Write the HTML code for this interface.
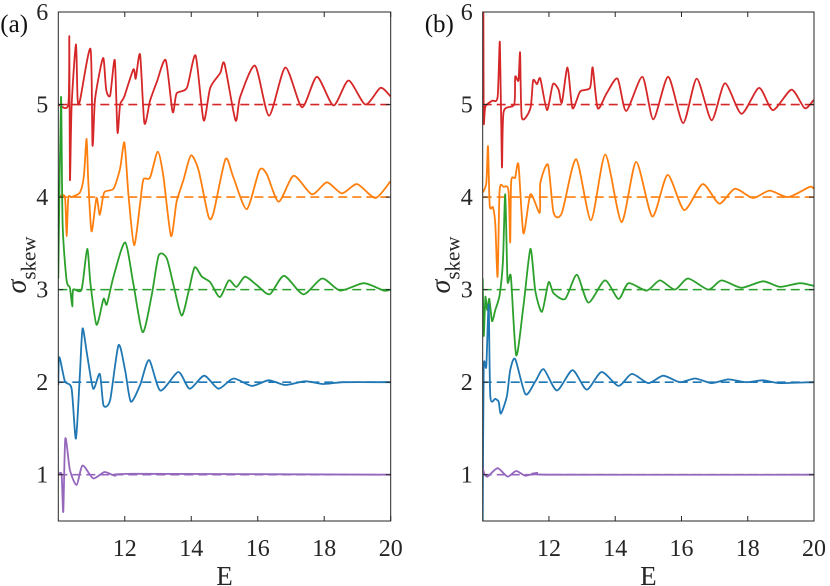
<!DOCTYPE html>
<html><head><meta charset="utf-8">
<style>
html,body{margin:0;padding:0;background:#fff;}
svg{display:block;font-family:"Liberation Serif","Times New Roman",serif;}
</style></head>
<body>
<svg id="fig" width="830" height="586" viewBox="0 0 830 586" xmlns="http://www.w3.org/2000/svg"></svg>
<script>
// ---- data ----
const xTicks = [12, 14, 16, 18, 20];
const yTicks = [1, 2, 3, 4, 5, 6];
const baselines = [5, 4, 3, 2, 1];
const seriesNames = ['red', 'orange', 'green', 'blue', 'purple'];
const seriesColors = ['#d62728', '#ff7f0e', '#2ca02c', '#1f77b4', '#9467bd'];

const aRedE = [10,10.3,10.33,10.35,10.4,10.53,10.58,10.65,10.97,11.03,11.1,11.25,11.36,11.44,11.56,11.7,11.78,11.86,11.98,12.26,12.33,12.46,12.59,12.76,12.96,13.23,13.44,13.56,13.87,14.13,14.37,14.57,14.87,15,15.33,15.47,15.92,16.34,16.83,17.33,17.78,18.28,18.73,19.24,19.69,19.99];
const aRedV = [5,5,5.73,4.19,4.98,5.65,5.06,5.04,5.6,4.56,5.04,5.36,5.5,5.16,5.1,5.48,4.7,5,5.08,5.38,5.28,5.54,4.8,5.04,5.24,5.48,4.92,5.12,5.18,5.53,4.83,5.18,5.34,5.44,4.83,5.08,5.42,4.88,5.4,4.97,5.3,4.99,5.26,5,5.18,5.09];
const aOrangeE = [10,10.2,10.25,10.3,10.4,10.65,10.77,10.85,10.9,11,11.15,11.25,11.38,11.66,11.86,11.99,12.11,12.28,12.46,12.56,12.76,12.99,13.16,13.39,13.56,13.77,13.99,14.22,14.52,14.67,15.03,15.27,15.67,16.05,16.27,16.63,17.08,17.63,18.08,18.53,18.99,19.54,19.99];
const aOrangeV = [4,4,3.58,3.99,4,4.05,4.23,4.63,4.19,3.63,3.99,3.81,4.05,4.09,4.31,4.59,4.03,3.48,3.93,4.19,4.21,4.49,4.23,3.58,3.95,4.19,4.45,4.29,3.79,3.83,4.41,4.21,3.87,4.29,4.25,3.95,4.23,4.03,4.16,4.04,4.14,3.99,4.17];
const aGreenE = [10,10.08,10.13,10.25,10.35,10.42,10.45,10.7,10.87,10.97,11.15,11.36,11.46,11.66,12.01,12.26,12.54,12.81,13.02,13.26,13.46,13.71,13.92,14.1,14.32,14.57,14.86,15.13,15.36,15.62,15.97,16.36,16.79,17.37,17.94,18.48,19.19,19.79,19.99];
const aGreenV = [3.12,5.08,3.71,3.1,3.02,2.82,3,3,3.44,3.06,2.62,2.9,2.84,3.14,3.51,3.06,2.54,2.94,3.37,3.34,3.06,2.72,2.98,3.24,3.14,3.08,2.92,3.1,3.03,3.14,3.05,2.95,3.15,2.95,3.12,2.99,3.07,2.99,3];
const aBlueE = [10,10.03,10.2,10.4,10.53,10.65,10.73,10.87,11.05,11.25,11.36,11.56,11.81,12.01,12.18,12.46,12.73,13.07,13.61,13.95,14.39,14.82,15.27,15.82,16.33,16.83,17.43,17.98,18.58,19.99];
const aBlueV = [1.97,2.27,2.01,1.93,1.39,2.09,2.58,2.29,1.93,2.09,1.75,1.81,2.4,2.13,1.79,1.97,2.24,1.91,2.11,1.93,2.07,1.93,2.04,1.96,2.02,1.97,2.01,1.98,2,2];
const aPurpleE = [10,10.1,10.15,10.21,10.35,10.55,10.73,11.05,11.39,11.71,12.26,20];
const aPurpleV = [1,1,0.6,1.39,1.05,0.89,1.1,0.96,1.03,0.99,1.01,1];

const bRedE = [10,10.02,10.03,10.08,10.28,10.45,10.52,10.58,10.63,10.95,10.98,11.08,11.13,11.18,11.44,11.52,11.64,11.74,11.94,12.12,12.29,12.39,12.56,12.71,12.94,13.24,13.32,13.47,13.74,14.07,14.33,14.82,15.15,15.6,16.05,16.46,16.91,17.31,17.81,18.34,18.76,19.32,19.72,19.99];
const bRedV = [6,6,4.82,4.98,5.04,5.08,5.67,4.33,4.92,5,5.3,5.26,5.56,4.86,4.96,5.26,5.22,5.28,4.94,5.22,5.16,5.02,5.4,4.96,5.14,5.18,5.4,4.96,5.12,5.28,4.93,5.3,4.84,5.3,4.8,5.28,4.83,5.23,4.9,5.18,4.94,5.16,4.96,5.05];
const bOrangeE = [10,10.11,10.16,10.21,10.31,10.38,10.45,10.51,10.63,10.78,10.83,10.86,10.98,11.08,11.23,11.44,11.72,11.74,11.97,12.14,12.39,12.82,13.27,13.7,14.19,14.63,15.12,15.58,16.08,16.64,17.14,17.61,18.16,18.66,19.22,19.87,19.99];
const bOrangeV = [4.05,4.15,4.55,3.91,3.89,3.71,3.14,4.07,4.11,4.07,3.51,4.17,4.21,4.35,3.61,4.03,3.83,4.15,4.35,3.83,3.83,4.41,3.75,4.46,3.73,4.38,3.79,4.24,3.86,4.14,3.93,4.09,3.99,4.07,4,4.11,4.09];
const bGreenE = [10,10.03,10.08,10.13,10.2,10.28,10.38,10.51,10.61,10.68,10.75,10.85,11.01,11.23,11.44,11.59,11.79,11.99,12.14,12.49,12.84,13.19,13.69,14.1,14.4,14.95,15.35,15.8,16.2,16.81,17.21,17.81,18.46,18.97,19.57,19.99];
const bGreenV = [3.12,2.5,2.92,2.78,2.9,2.66,2.78,2.94,3.3,4.03,3.1,3.14,2.29,2.82,3.44,2.98,2.76,3.08,2.96,2.9,3.16,2.86,3.1,2.9,3.07,2.99,3.1,3,3.12,3,3.1,3.02,3.09,3.03,3.07,3.04];
const bBlueE = [10,10.03,10.11,10.18,10.23,10.38,10.48,10.55,10.73,10.83,10.98,11.29,11.59,11.84,12.24,12.71,13.14,13.59,14.1,14.5,15,15.45,15.95,16.41,16.91,17.41,17.96,18.46,18.96,19.99];
const bBlueV = [0.49,2.15,2.17,2.84,1.85,1.82,1.79,1.66,1.85,2.13,2.25,1.87,2.01,2.14,1.91,2.13,1.92,2.11,1.96,2.09,1.99,2.07,2,2.04,1.99,2.03,2,2.02,1.99,2];
const bPurpleE = [10,10.05,10.15,10.45,10.75,11.01,11.29,11.64,12.04,20];
const bPurpleV = [1.07,1.01,0.98,1.07,0.98,1.04,0.99,1.02,1,1];

const panels = [
  {id:'a', label:'(a)', left:58.3, right:390.7, E:[aRedE,aOrangeE,aGreenE,aBlueE,aPurpleE], V:[aRedV,aOrangeV,aGreenV,aBlueV,aPurpleV]},
  {id:'b', label:'(b)', left:482.7, right:814, E:[bRedE,bOrangeE,bGreenE,bBlueE,bPurpleE], V:[bRedV,bOrangeV,bGreenV,bBlueV,bPurpleV]}
];

const NS = 'http://www.w3.org/2000/svg';
const svg = document.getElementById('fig');
const TOP = 12, BOTTOM = 521, YMIN = 0.5, YMAX = 6;
function mk(tag, attrs, parent){ const e=document.createElementNS(NS,tag); for(const k in attrs) e.setAttribute(k,attrs[k]); (parent||svg).appendChild(e); return e; }
function yScale(v){ return BOTTOM - (v-YMIN)/(YMAX-YMIN)*(BOTTOM-TOP); }
// smoothed path (Catmull-Rom, reduced tension)
function smoothPath(pts){
  let d = 'M'+pts[0][0].toFixed(1)+','+pts[0][1].toFixed(1);
  const t = 0.12;
  for(let i=0;i<pts.length-1;i++){
    const p0 = pts[Math.max(0,i-1)], p1 = pts[i], p2 = pts[i+1], p3 = pts[Math.min(pts.length-1,i+2)];
    const c1x = p1[0] + (p2[0]-p0[0])*t, c1y = p1[1] + (p2[1]-p0[1])*t;
    const c2x = p2[0] - (p3[0]-p1[0])*t, c2y = p2[1] - (p3[1]-p1[1])*t;
    d += ' C'+c1x.toFixed(1)+','+c1y.toFixed(1)+' '+c2x.toFixed(1)+','+c2y.toFixed(1)+' '+p2[0].toFixed(1)+','+p2[1].toFixed(1);
  }
  return d;
}

panels.forEach(p=>{
  const xScale = e => p.left + (e-10)/10*(p.right-p.left);
  const g = mk('g',{});
  
  
  const clipId = 'clip'+p.id;
  const cp = mk('clipPath',{id:clipId}, g);
  mk('rect',{x:p.left,y:TOP,width:p.right-p.left,height:BOTTOM-TOP}, cp);
  const plot = mk('g',{'clip-path':'url(#'+clipId+')'}, g);
  baselines.forEach((b,i)=>{
    const l = mk('line',{x1:p.left,x2:p.right,y1:yScale(b),y2:yScale(b),stroke:seriesColors[i],'stroke-width':1.6,'stroke-dasharray':'9,5'}, plot);
    
    
  });
  p.E.forEach((Es,i)=>{
    const pts = Es.map((e,k)=>[xScale(e), yScale(p.V[i][k])]);
    const path = mk('path',{d:smoothPath(pts),fill:'none',stroke:seriesColors[i],'stroke-width':1.8,'stroke-linejoin':'round'}, plot);
    
    
  });
  const fr = mk('rect',{x:p.left,y:TOP,width:p.right-p.left,height:BOTTOM-TOP,fill:'none',stroke:'#262626','stroke-width':1}, g);
  
  
  xTicks.forEach(t=>{
    const x = xScale(t);
    mk('line',{x1:x,x2:x,y1:BOTTOM,y2:BOTTOM-5,stroke:'#262626'}, g);
    mk('line',{x1:x,x2:x,y1:TOP,y2:TOP+5,stroke:'#262626'}, g);
    const tx = mk('text',{x:x,y:BOTTOM+35,'text-anchor':'middle','font-size':24,fill:'#262626'}, g);
    tx.textContent = t;
    
    
  });
  yTicks.forEach(t=>{
    const y = yScale(t);
    mk('line',{x1:p.left,x2:p.left+5,y1:y,y2:y,stroke:'#262626'}, g);
    mk('line',{x1:p.right,x2:p.right-5,y1:y,y2:y,stroke:'#262626'}, g);
    const ty = mk('text',{x:p.left-10,y:y+8,'text-anchor':'end','font-size':24,fill:'#262626'}, g);
    ty.textContent = t;
    
    
  });
  const xl = mk('text',{x:(p.left+p.right)/2,y:585,'text-anchor':'middle','font-size':27,fill:'#262626'}, g);
  xl.textContent = 'E';
  
  
  const yl = mk('text',{transform:'translate('+(p.left-33)+',265) rotate(-90)','text-anchor':'middle','font-size':28,fill:'#262626'}, g);
  yl.innerHTML = '<tspan font-style="italic">σ</tspan><tspan font-size="21" dy="10">skew</tspan>';
  
  
  const pl = mk('text',{x:p.left-58,y:32,'font-size':25,fill:'#111'}, g);
  pl.textContent = p.label;
  
  
});
</script>
</body></html>
